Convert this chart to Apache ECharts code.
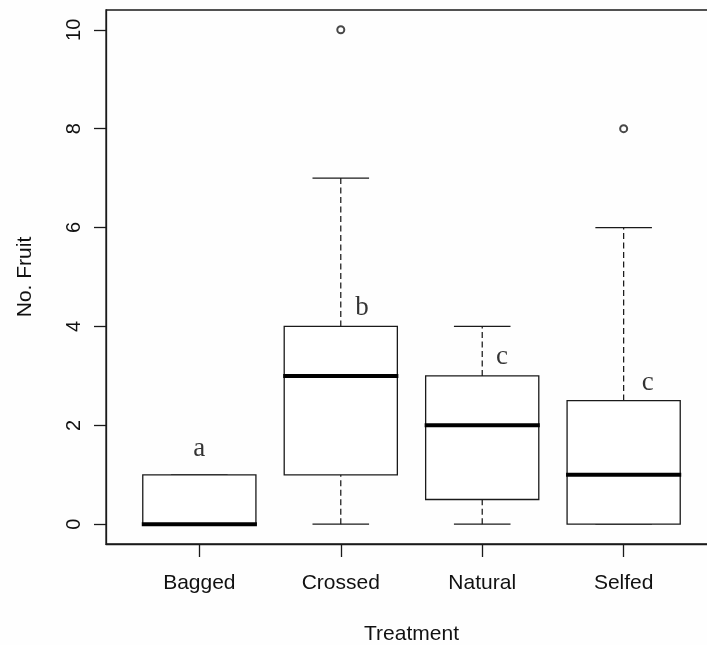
<!DOCTYPE html>
<html>
<head>
<meta charset="utf-8">
<script src="https://cdn.jsdelivr.net/npm/echarts@6/dist/echarts.min.js"></script>
<style>html,body{margin:0;padding:0;background:#fff}#c{width:707px;height:645px}</style>
</head>
<body>
<div id="c"></div>
<script>
const categories = ['Bagged', 'Crossed', 'Natural', 'Selfed'];
const whiskerLow = [0, 0, 0, 0];
const q1 = [0, 1, 0.5, 0];
const median = [0, 3, 2, 1];
const q3 = [1, 4, 3, 2.5];
const whiskerHigh = [1, 7, 4, 6];
const outlierCat = [2, 4];
const outlierVal = [10, 8];
const letters = ['a', 'b', 'c', 'c'];
const letterX = [1, 2.15, 3.14, 4.17];
const letterY = [1.5, 4.35, 3.37, 2.84];
const yTicks = [0, 2, 4, 6, 8, 10];
const xTicks = [1, 2, 3, 4];

const boxData = categories.map((c, i) => [i + 1, whiskerLow[i], q1[i], median[i], q3[i], whiskerHigh[i]]);
const outData = outlierCat.map((c, i) => [c, outlierVal[i]]);
const letterData = letters.map((l, i) => [letterX[i], letterY[i], l]);

const LINE = '#1a1a1a';
const chart = echarts.init(document.getElementById('c'), null, {renderer: 'canvas'});

function renderBox(params, api) {
  const x = api.value(0), lo = api.value(1), a = api.value(2), m = api.value(3), b = api.value(4), hi = api.value(5);
  const hb = 0.4, hc = 0.2;
  const P = (xx, yy) => api.coord([xx, yy]);
  const dash = {stroke: '#111', lineWidth: 1.2, lineDash: [6, 3.5], fill: null};
  const solid = {stroke: LINE, lineWidth: 1.3, fill: null};
  const line = (p1, p2, st) => ({type: 'line', shape: {x1: p1[0], y1: p1[1], x2: p2[0], y2: p2[1]}, style: st});
  const tl = P(x - hb, b), br = P(x + hb, a);
  return {
    type: 'group',
    children: [
      line(P(x, lo), P(x, a), dash),
      line(P(x, b), P(x, hi), dash),
      line(P(x - hc, lo), P(x + hc, lo), solid),
      line(P(x - hc, hi), P(x + hc, hi), solid),
      {type: 'rect', shape: {x: tl[0], y: tl[1], width: br[0] - tl[0], height: br[1] - tl[1]}, style: {stroke: LINE, lineWidth: 1.3, fill: '#fff'}},
      line([tl[0] - 1, P(x, m)[1]], [br[0] + 1, P(x, m)[1]], {stroke: '#000', lineWidth: 4})
    ]
  };
}

chart.setOption({
  animation: false,
  backgroundColor: '#fefefe',
  grid: {left: 106, top: 10, right: -10, bottom: 101, outerBoundsMode: 'none', containLabel: false,
    show: true, borderColor: LINE, borderWidth: 1.3, backgroundColor: 'transparent'},
  xAxis: {
    type: 'value', min: 0.34, max: 4.66,
    name: 'Treatment', nameLocation: 'middle', nameGap: 80,
    nameTextStyle: {fontFamily: 'Liberation Sans', fontSize: 21, color: '#111'},
    axisLine: {show: true, onZero: false, lineStyle: {color: LINE, width: 1.3}},
    axisTick: {show: true, length: 13, customValues: xTicks, lineStyle: {color: LINE, width: 1.3}},
    axisLabel: {customValues: xTicks, margin: 29, fontFamily: 'Liberation Sans', fontSize: 21, color: '#111',
      formatter: v => categories[Math.round(v) - 1] || ''},
    splitLine: {show: false}
  },
  yAxis: {
    type: 'value', min: -0.4, max: 10.4,
    name: 'No. Fruit', nameLocation: 'middle', nameGap: 70, nameRotate: 90,
    nameTextStyle: {fontFamily: 'Liberation Sans', fontSize: 21, color: '#111'},
    axisLine: {show: true, onZero: false, lineStyle: {color: LINE, width: 1.3}},
    axisTick: {show: true, length: 12, customValues: yTicks, lineStyle: {color: LINE, width: 1.3}},
    axisLabel: {customValues: yTicks, rotate: 90, margin: 21.5, fontFamily: 'Liberation Sans', fontSize: 20, color: '#111'},
    splitLine: {show: false}
  },
  series: [
    {type: 'custom', renderItem: renderBox, data: boxData, encode: {x: 0, y: [1, 2, 3, 4, 5]}, z: 2},
    {type: 'scatter', data: outData, symbol: 'emptyCircle', symbolSize: 7,
      itemStyle: {color: LINE, borderColor: LINE, borderWidth: 1.2}, z: 3},
    {type: 'scatter', data: letterData, symbolSize: 0, z: 4,
      label: {show: true, position: 'inside', offset: [0, -1], formatter: p => p.value[2],
        fontFamily: 'Liberation Serif', fontSize: 27, color: '#000'}}
  ]
});
</script>
</body>
</html>
